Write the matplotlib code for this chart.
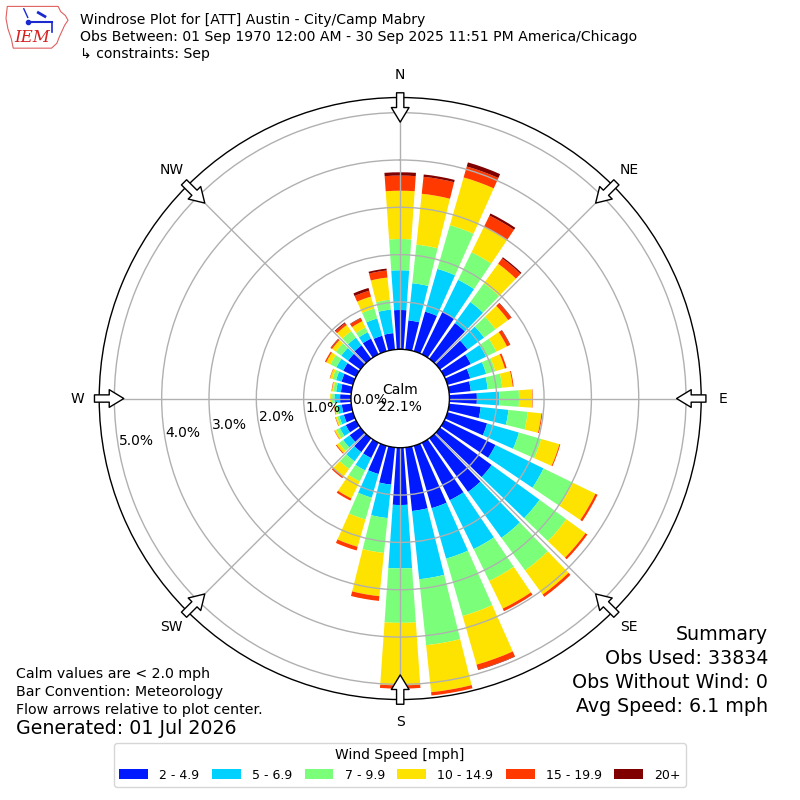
"""Windrose for ATT (Austin Camp Mabry), September, IEM style."""
import numpy as np
import matplotlib
matplotlib.use("Agg")
import matplotlib.pyplot as plt
from matplotlib.patches import Polygon

# ---------- data (percent of observations, per 10 deg direction bin) ----------
directions = [0, 10, 20, 30, 40, 50, 60, 70, 80, 90, 100, 110,
              120, 130, 140, 150, 160, 170, 180, 190, 200, 210, 220, 230,
              240, 250, 260, 270, 280, 290, 300, 310, 320, 330, 340, 350]
calm_pct = 22.1

speed_labels = ["2 - 4.9", "5 - 6.9", "7 - 9.9", "10 - 14.9", "15 - 19.9", "20+"]
speed_colors = ["#001aff", "#00d1ff", "#7bff7b", "#ffe300", "#ff3900", "#800000"]

pct_2_5 = [0.83, 0.62, 0.87, 1.00, 0.93, 0.72, 0.62, 0.50, 0.46, 0.58, 0.67, 0.87,
           1.20, 1.35, 1.40, 1.35, 1.37, 1.35, 1.21, 0.79, 0.62, 0.36, 0.36, 0.28,
           0.24, 0.20, 0.20, 0.23, 0.22, 0.25, 0.30, 0.32, 0.35, 0.37, 0.34, 0.35]
pct_5_7 = [0.84, 0.79, 0.94, 0.75, 0.55, 0.43, 0.36, 0.35, 0.36, 0.47, 0.59, 0.70,
           1.13, 1.25, 1.20, 1.15, 1.11, 1.45, 1.34, 0.71, 0.52, 0.29, 0.24, 0.17,
           0.14, 0.10, 0.09, 0.12, 0.10, 0.12, 0.16, 0.18, 0.20, 0.15, 0.38, 0.50]
pct_7_10 = [0.66, 0.82, 0.96, 0.65, 0.49, 0.30, 0.24, 0.20, 0.31, 0.42, 0.41, 0.49,
            0.69, 0.70, 0.85, 0.75, 1.26, 1.40, 1.15, 0.74, 0.48, 0.26, 0.20, 0.11,
            0.08, 0.05, 0.05, 0.05, 0.06, 0.08, 0.14, 0.14, 0.17, 0.11, 0.22, 0.21]
pct_10_15 = [1.02, 1.08, 1.05, 0.60, 0.51, 0.33, 0.25, 0.21, 0.22, 0.28, 0.29, 0.40,
             0.53, 0.50, 0.63, 0.65, 1.07, 1.00, 1.32, 0.92, 0.60, 0.40, 0.20, 0.06,
             0.04, 0.03, 0.02, 0.04, 0.03, 0.05, 0.10, 0.10, 0.16, 0.15, 0.26, 0.47]
pct_15_20 = [0.32, 0.36, 0.24, 0.26, 0.14, 0.08, 0.07, 0.04, 0.02, 0.01, 0.02, 0.02,
             0.05, 0.05, 0.06, 0.06, 0.11, 0.07, 0.07, 0.10, 0.08, 0.05, 0.04, 0.02,
             0.01, 0.01, 0.01, 0.00, 0.01, 0.01, 0.03, 0.03, 0.05, 0.07, 0.13, 0.15]
pct_20p = [0.07, 0.05, 0.09, 0.05, 0.03, 0.01, 0.01, 0.00, 0.00, 0.00, 0.00, 0.00,
           0.00, 0.00, 0.00, 0.00, 0.01, 0.00, 0.00, 0.00, 0.00, 0.00, 0.00, 0.00,
           0.00, 0.00, 0.00, 0.00, 0.00, 0.00, 0.00, 0.01, 0.02, 0.01, 0.06, 0.04]
speed_bins = [pct_2_5, pct_5_7, pct_7_10, pct_10_15, pct_15_20, pct_20p]

ring_ticks = [0, 1, 2, 3, 4, 5]
compass_angles = [0, 45, 90, 135, 180, 225, 270, 315]
compass_labels = ["N", "NE", "E", "SE", "S", "SW", "W", "NW"]

title_lines = ["Windrose Plot for [ATT] Austin - City/Camp Mabry",
               "Obs Between: 01 Sep 1970 12:00 AM - 30 Sep 2025 11:51 PM America/Chicago",
               "\u21b3 constraints: Sep"]
notes = ["Calm values are < 2.0 mph", "Bar Convention: Meteorology",
         "Flow arrows relative to plot center."]
generated = "Generated: 01 Jul 2026"
summary = ["Summary", "Obs Used: 33834", "Obs Without Wind: 0", "Avg Speed: 6.1 mph"]

# ---------- figure ----------
fig = plt.figure(figsize=(8, 8), dpi=100)
ax = fig.add_axes([0.124, 0.1256, 0.7525, 0.7525], projection="polar")
ax.set_theta_zero_location("N")
ax.set_theta_direction(-1)

theta = np.radians(directions)
bottom = np.zeros(len(directions))
for vals, col, lab in zip(speed_bins, speed_colors, speed_labels):
    vals = np.asarray(vals)
    ax.bar(theta, vals, width=np.radians(8), bottom=bottom, color=col,
           label=lab, linewidth=0, zorder=1)
    bottom += vals

ax.set_rorigin(-1.04)
ax.set_ylim(0, 5.32)
ax.set_xticks(np.radians(compass_angles))
ax.set_xticklabels([])
ax.set_yticks(ring_ticks[1:])
ax.set_yticklabels([])
ax.grid(True, color="#b0b0b0", lw=1)
for name, sp in ax.spines.items():
    sp.set_color("black")
    sp.set_linewidth(1)

# ring labels
for r in ring_ticks:
    ax.text(np.radians(260), r, f"{r:.1f}%", ha="left", va="bottom",
            fontsize=10, clip_on=False)

# compass labels + inward flow arrows
for ang, lab in zip(compass_angles, compass_labels):
    th = np.radians(ang)
    ax.text(th, 5.79, lab, ha="center", va="center", fontsize=10, clip_on=False)
    ax.annotate("", xy=(th, 4.80), xytext=(th, 5.42), xycoords="data",
                annotation_clip=False, zorder=5,
                arrowprops=dict(arrowstyle="simple,head_length=0.7,head_width=0.85,tail_width=0.35",
                                mutation_scale=15, fc="white", ec="black", lw=1,
                                shrinkA=0, shrinkB=0))

ax.text(0.5, 0.5, f"Calm\n{calm_pct:.1f}%", transform=ax.transAxes,
        ha="center", va="center", fontsize=10)

# ---------- header ----------
for i, line in enumerate(title_lines):
    fig.text(80 / 800, 1 - (20 + 17 * i) / 800, line, ha="left", va="center", fontsize=10.1)

# logo (rough IEM badge)
lax = fig.add_axes([4 / 800, 1 - 52 / 800, 66 / 800, 48 / 800])
lax.set_xlim(0, 1)
lax.set_ylim(0, 1)
lax.axis("off")
iowa = [(0.05, 0.95), (0.82, 0.95), (0.86, 0.84), (0.93, 0.76), (0.97, 0.66),
        (0.92, 0.56), (0.88, 0.44), (0.84, 0.32), (0.80, 0.18), (0.72, 0.08),
        (0.14, 0.08), (0.11, 0.28), (0.06, 0.48), (0.03, 0.70), (0.05, 0.95)]
lax.add_patch(Polygon(iowa, closed=True, fill=False, ec="#e06060", lw=0.8))
lax.text(0.42, 0.30, "IEM", color="#d62020", fontsize=12, style="italic",
         family="DejaVu Serif", ha="center", va="center")
lax.plot([0.38, 0.72], [0.62, 0.62], color="#1a2ad0", lw=1.5)
lax.plot([0.30, 0.36], [0.90, 0.72], color="#1a2ad0", lw=1)
lax.plot([0.52, 0.62], [0.82, 0.74], color="#1a2ad0", lw=2)
lax.plot([0.72, 0.72], [0.62, 0.42], color="#1a2ad0", lw=1.2)
lax.plot([0.36], [0.62], "o", color="#1a2ad0", ms=3)

# ---------- footer texts ----------
for i, line in enumerate(notes):
    fig.text(16 / 800, 1 - (674 + 18 * i) / 800, line, ha="left", va="center", fontsize=10.2)
fig.text(16 / 800, 1 - 729 / 800, generated, ha="left", va="center", fontsize=13.7)

for i, line in enumerate(summary):
    fig.text(768 / 800, 1 - (635 + 23.7 * i) / 800, line, ha="right", va="center", fontsize=13.7)

handles, labels = ax.get_legend_handles_labels()
fig.legend(handles, labels, loc="lower center", bbox_to_anchor=(0.5, 0.009), ncol=6,
           title="Wind Speed [mph]", fontsize=9, title_fontsize=10,
           handlelength=2.3, handleheight=0.8, handletextpad=0.9, columnspacing=1.0)

fig.savefig("out.png", dpi=100)
